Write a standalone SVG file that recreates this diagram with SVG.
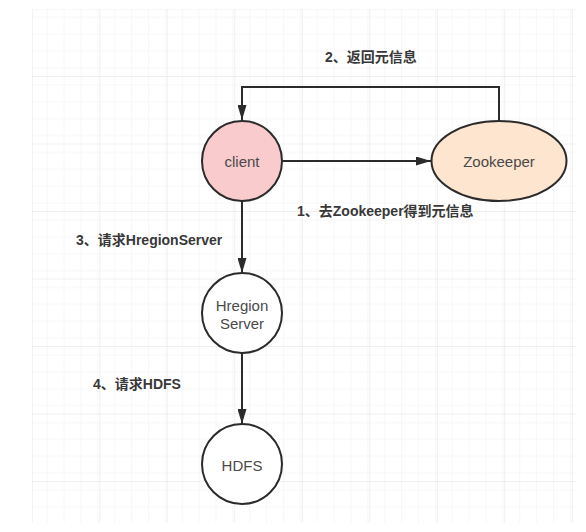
<svg xmlns="http://www.w3.org/2000/svg" width="586" height="532" viewBox="0 0 586 532">
  <style>
    .node { stroke: #2b2b2b; stroke-width: 2; }
    .ntext { font-family: "Liberation Sans", "Noto Sans", sans-serif; font-size: 15px; fill: #4a4a4a; text-anchor: middle; dominant-baseline: central; }
    .label { font-family: "Liberation Sans", "Noto Sans CJK SC", sans-serif; font-size: 14px; font-weight: bold; fill: #383838; dominant-baseline: central; }
    .edge { fill: none; stroke: #2b2b2b; stroke-width: 2; }
  </style>
  <defs>
    <pattern id="minor" patternUnits="userSpaceOnUse" x="31.8" y="8.5" width="16.875" height="16.875">
      <path d="M 16.875 0 L 0 0 0 16.875" fill="none" stroke="#efefef" stroke-width="1"/>
    </pattern>
    <pattern id="major" patternUnits="userSpaceOnUse" x="31.8" y="8.5" width="67.5" height="67.5">
      <rect width="67.5" height="67.5" fill="url(#minor)"/>
      <path d="M 67.5 0 L 0 0 0 67.5" fill="none" stroke="#e2e2e2" stroke-width="1"/>
    </pattern>
    <marker id="arr" markerWidth="15" markerHeight="9" refX="15" refY="4.5" orient="auto" markerUnits="userSpaceOnUse">
      <path d="M0,0 L15,4.5 L0,9 Z" fill="#2b2b2b"/>
    </marker>
  </defs>
  <rect width="586" height="532" fill="#ffffff"/>
  <rect x="32" y="9" width="544" height="514" fill="url(#major)"/>

  <g id="connectors">
    <path class="edge" d="M282,161 L431,161" marker-end="url(#arr)"/>
    <path class="edge" d="M499,121 L499,87 L242,87 L242,120" marker-end="url(#arr)"/>
    <path class="edge" d="M242,201 L242,273" marker-end="url(#arr)"/>
    <path class="edge" d="M242,353 L242,424" marker-end="url(#arr)"/>
  </g>

  <g id="client">
    <circle class="node" cx="242" cy="161" r="40" fill="#f9cbcd"/>
    <text class="ntext" x="242" y="161">client</text>
  </g>
  <g id="zookeeper">
    <ellipse class="node" cx="499" cy="161" rx="67.5" ry="40" fill="#fde5cf"/>
    <text class="ntext" x="499" y="161">Zookeeper</text>
  </g>
  <g id="hregion">
    <circle class="node" cx="242" cy="313" r="40" fill="#ffffff"/>
    <text class="ntext" x="242" y="305">Hregion</text>
    <text class="ntext" x="242" y="323">Server</text>
  </g>
  <g id="hdfs">
    <circle class="node" cx="242" cy="464" r="40" fill="#ffffff"/>
    <text class="ntext" x="242" y="465">HDFS</text>
  </g>

  <g id="labels">
    <text class="label" x="325" y="57">2、返回元信息</text>
    <text class="label" x="297" y="211">1、去Zookeeper得到元信息</text>
    <text class="label" x="76" y="240">3、请求HregionServer</text>
    <text class="label" x="93" y="384">4、请求HDFS</text>
  </g>
</svg>
